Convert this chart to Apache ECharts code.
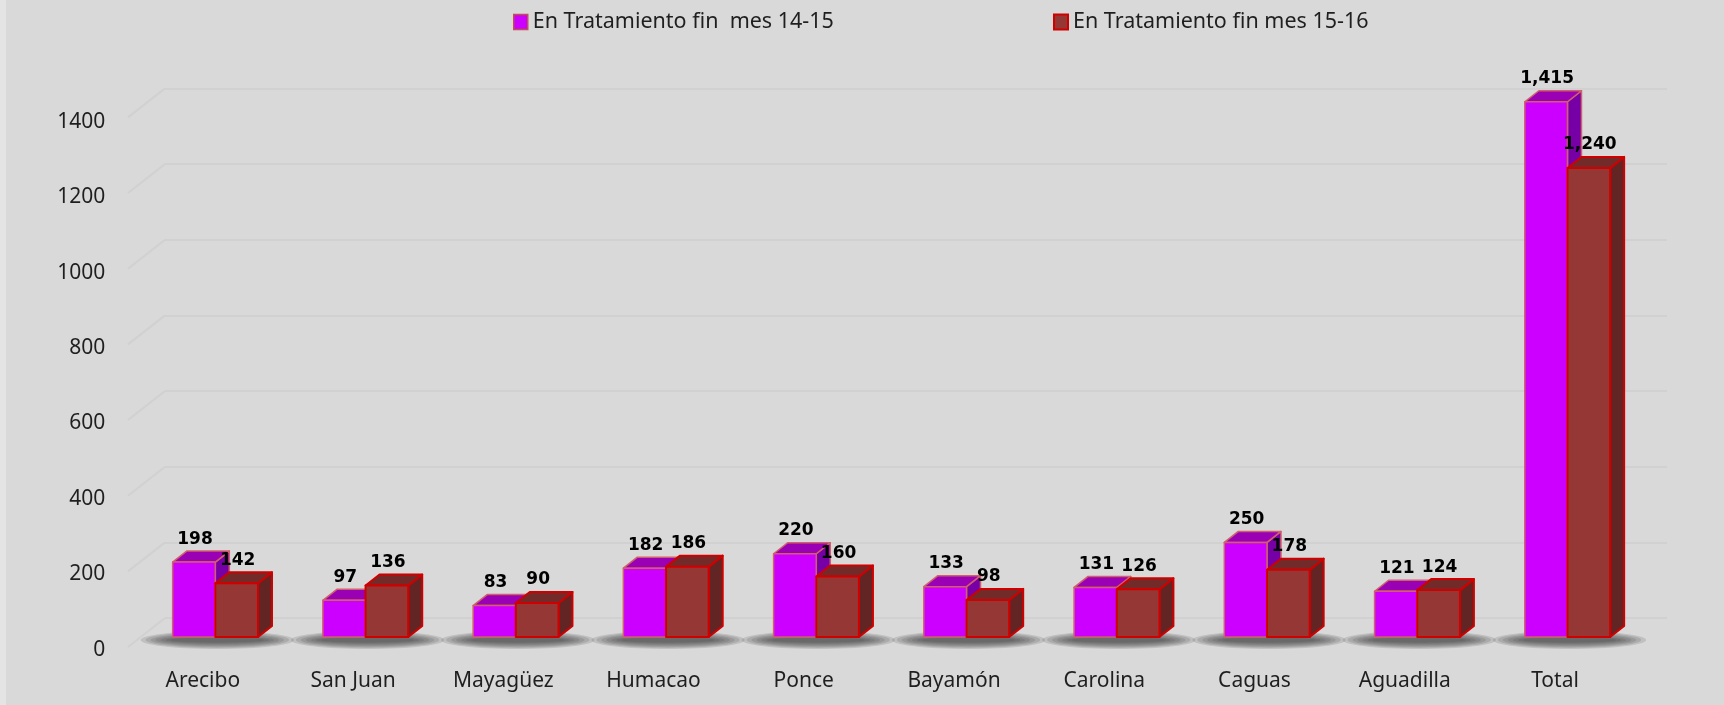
<!DOCTYPE html>
<html>
<head>
<meta charset="utf-8">
<script src="https://cdn.jsdelivr.net/npm/echarts@6/dist/echarts.min.js"></script>
<style>
  html, body { margin: 0; padding: 0; background: #d9d9d9; }
  #chart { width: 1724px; height: 705px; }
</style>
</head>
<body>
<div id="chart"></div>
<script>
// datos
var regiones = ['Arecibo', 'San Juan', 'Mayagüez', 'Humacao', 'Ponce', 'Bayamón', 'Carolina', 'Caguas', 'Aguadilla', 'Total'];
var mes1415 = [198, 97, 83, 182, 220, 133, 131, 250, 121, 1415];
var mes1516 = [142, 136, 90, 186, 160, 98, 126, 178, 124, 1240];
var yTicks = [0, 200, 400, 600, 800, 1000, 1200, 1400];
var nombres = ['En Tratamiento fin  mes 14-15', 'En Tratamiento fin mes 15-16'];

var DX = 14, DY = -11;   // profundidad de la barra 3D

function caras(colFront, colTop, colSide, stroke, sw, lado) {
  return function (params, api) {
    var i = api.value(0), v = api.value(1);
    var base = api.coord([i, 0]);
    var top = api.coord([i, v]);
    var band = api.size([1, 0])[0];
    var w = band * 0.284;
    var x0 = lado === 0 ? base[0] - w : base[0];
    var x1 = x0 + w;
    var y0 = top[1], y1 = base[1];
    var st = { stroke: stroke, lineWidth: sw, lineJoin: 'round' };
    return {
      type: 'group',
      children: [
        { type: 'polygon', shape: { points: [[x1, y0], [x1 + DX, y0 + DY], [x1 + DX, y1 + DY], [x1, y1]] },
          style: Object.assign({ fill: colSide }, st) },
        { type: 'polygon', shape: { points: [[x0, y0], [x0 + DX, y0 + DY], [x1 + DX, y0 + DY], [x1, y0]] },
          style: Object.assign({ fill: colTop }, st) },
        { type: 'rect', shape: { x: x0, y: y0, width: w, height: y1 - y0 },
          style: Object.assign({ fill: colFront }, st) },
        { type: 'text', x: (x0 + x1) / 2 + 1, y: y0 - 23,
          style: { text: v.toLocaleString('en-US'), fill: '#000', font: 'bold 17px "DejaVu Sans"',
                   align: 'center', verticalAlign: 'middle' } }
      ]
    };
  };
}

var chart = echarts.init(document.getElementById('chart'));
var option = {
  backgroundColor: '#d9d9d9',
  animation: false,
  graphic: [{ type: 'rect', shape: { x: 0, y: 0, width: 6, height: 705 }, style: { fill: '#e4e4e4' } }],
  legend: [
    { left: 513, top: 11, padding: 0, itemWidth: 14, itemHeight: 15, icon: 'rect',
      textStyle: { fontFamily: 'Noto Sans', fontSize: 21.5, color: '#1f1f1f' },
      data: [{ name: nombres[0], itemStyle: { color: '#cc00ff', borderColor: '#c0504d', borderWidth: 1.5 } }] },
    { left: 1053, top: 11, padding: 0, itemWidth: 14, itemHeight: 15, icon: 'rect',
      textStyle: { fontFamily: 'Noto Sans', fontSize: 21.5, color: '#1f1f1f' },
      data: [{ name: nombres[1], itemStyle: { color: '#953735', borderColor: '#d00000', borderWidth: 2 } }] }
  ],
  grid: [
    { left: 140.2, right: 81.4, top: 107.4, bottom: 68 },   // barras
    { left: 165, right: 57, top: 88.4, bottom: 87 },         // pared del fondo
    { left: 140.2, right: 81.4, top: 121.8, bottom: 55.2 }   // etiquetas del eje y
  ],
  xAxis: [
    { type: 'category', gridIndex: 0, data: regiones,
      axisLine: { show: false }, axisTick: { show: false },
      axisLabel: { margin: 34, padding: [0, 25, 0, 0], fontFamily: 'Noto Sans', fontSize: 21, color: '#1f1f1f' } },
    { type: 'value', gridIndex: 1, min: 0, max: 1, show: false },
    { type: 'category', gridIndex: 2, data: regiones, show: false }
  ],
  yAxis: [
    { type: 'value', gridIndex: 0, min: 0, max: 1400, interval: 200, show: false },
    { type: 'value', gridIndex: 1, min: 0, max: 1400, interval: 200,
      axisLine: { show: false }, axisTick: { show: false }, axisLabel: { show: false },
      splitLine: { show: true, lineStyle: { color: '#d1d1d1', width: 2 } } },
    { type: 'value', gridIndex: 2, min: 0, max: 1400, interval: 200,
      axisLine: { show: false }, axisTick: { show: false }, splitLine: { show: false },
      axisLabel: { margin: 35, formatter: function (v) { return String(v); },
                   fontFamily: 'Noto Sans', fontSize: 21, color: '#1f1f1f' } }
  ],
  series: [
    { // líneas diagonales de la pared lateral
      type: 'custom', xAxisIndex: 1, yAxisIndex: 1, silent: true, clip: false, z: 1,
      data: yTicks.map(function (t) { return [0, t]; }),
      renderItem: function (params, api) {
        var p = api.coord([0, api.value(1)]);
        return { type: 'line', shape: { x1: p[0] - 37, y1: p[1] + 29, x2: p[0], y2: p[1] },
                 style: { stroke: '#d1d1d1', lineWidth: 2 } };
      }
    },
    { // sombras en el piso
      type: 'custom', silent: true, clip: false, z: 1,
      data: regiones.map(function (r, i) { return [i, 0]; }),
      renderItem: function (params, api) {
        var p = api.coord([api.value(0), 0]);
        var band = api.size([1, 0])[0];
        var w = band * 0.284;
        var capas = [];
        for (var k = 0; k < 7; k++) {
          capas.push({ type: 'ellipse',
            shape: { cx: p[0] + 2, cy: p[1] + 3, rx: w + 34 - k * 5, ry: 9 - k * 1.1 },
            style: { fill: 'rgba(55,55,55,0.15)' } });
        }
        return { type: 'group', children: capas };
      }
    },
    { name: nombres[0], type: 'custom', clip: false, z: 3,
      itemStyle: { color: '#cc00ff', borderColor: '#c0504d', borderWidth: 1.5 },
      data: mes1415.map(function (v, i) { return [i, v]; }),
      encode: { x: 0, y: 1 },
      renderItem: caras('#cc00ff', '#9a00b4', '#7600a6', '#d0606a', 1.5, 0) },
    { name: nombres[1], type: 'custom', clip: false, z: 4,
      itemStyle: { color: '#953735', borderColor: '#d00000', borderWidth: 2 },
      data: mes1516.map(function (v, i) { return [i, v]; }),
      encode: { x: 0, y: 1 },
      renderItem: caras('#953735', '#722b29', '#632523', '#d00000', 2, 1) }
  ]
};
chart.setOption(option);
</script>
</body>
</html>
